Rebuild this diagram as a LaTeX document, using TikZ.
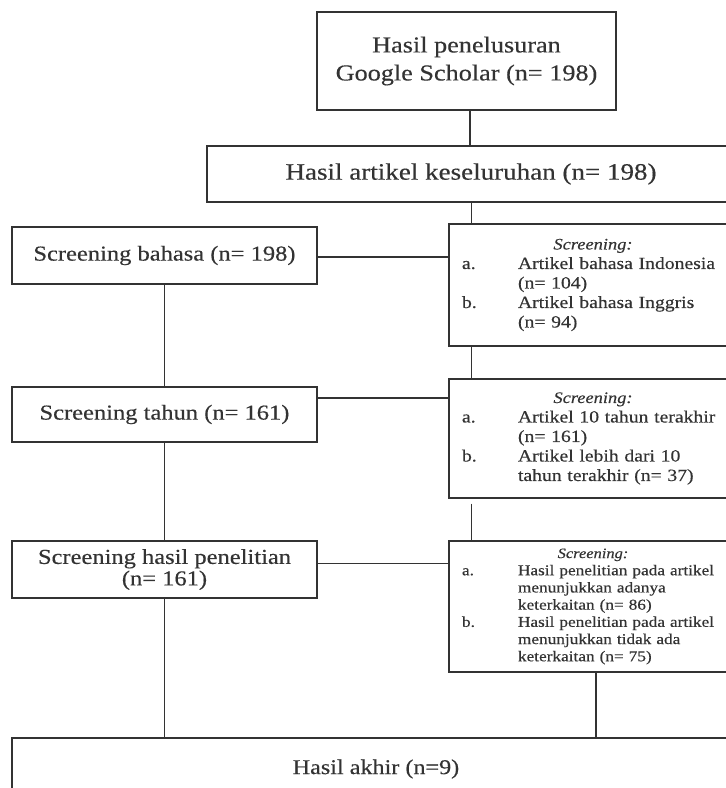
\documentclass[tikz,border=0pt]{standalone}
\usepackage{fontspec}
\setmainfont[FakeStretch=1.15,FakeBold=0.35]{Liberation Serif}
\usetikzlibrary{calc}
\setlength{\parindent}{0pt}
\definecolor{linec}{HTML}{333333}
\definecolor{textc}{HTML}{333333}
\newcommand{\itemrow}[2]{\makebox[56pt][l]{#1}#2\par}
\newcommand{\controw}[1]{\hspace*{56pt}#1\par}
\begin{document}
\begin{tikzpicture}[x=1pt,y=-1pt,
  box/.style={draw=linec, line width=1.4pt, rectangle, inner sep=0pt, align=center, text=textc},
  bigfont/.style={font=\fontsize{22.8}{28}\selectfont},
  leftfont/.style={font=\fontsize{21.3}{21.5}\selectfont},
  rbox/.style={box, align=left, text width=262pt, inner xsep=13pt, inner ysep=0pt},
  conn/.style={draw=linec, line width=1.4pt}]
\useasboundingbox (0,0) rectangle (726,788);
\clip (0,0) rectangle (726,788);
\fill[white] (0,0) rectangle (726,788);

\node[box, bigfont, minimum width=299pt, minimum height=98pt] (top) at (466.5,61)
  {Hasil penelusuran\\Google Scholar (n= 198)};
\node[box, font=\fontsize{23.5}{28}\selectfont, minimum width=528pt, minimum height=56pt] (all) at (471,174)
  {Hasil artikel keseluruhan (n= 198)};

\node[box, leftfont, minimum width=305pt, minimum height=57pt] (lb1) at (164.5,255.5)
  {Screening bahasa (n= 198)};
\node[box, leftfont, minimum width=305pt, minimum height=55pt] (lb2) at (164.5,414.5)
  {Screening tahun (n= 161)};
\node[box, leftfont, minimum width=305pt, minimum height=57pt] (lb3) at (164.5,569.5)
  {Screening hasil penelitian\\(n= 161)};

\node[rbox, font=\fontsize{17.1}{19.5}\selectfont, minimum height=122pt] (rb1) at (593,285)
  {{\centering\fontsize{16}{21}\selectfont\itshape Screening:\par}
   \itemrow{a.}{Artikel bahasa Indonesia}
   \controw{(n= 104)}
   \itemrow{b.}{Artikel bahasa Inggris}
   \controw{(n= 94)}};
\node[rbox, font=\fontsize{17.1}{19.5}\selectfont, minimum height=119pt] (rb2) at (593,438.5)
  {{\centering\fontsize{16}{21}\selectfont\itshape Screening:\par}
   \itemrow{a.}{Artikel 10 tahun terakhir}
   \controw{(n= 161)}
   \itemrow{b.}{Artikel lebih dari 10}
   \controw{tahun terakhir (n= 37)}};
\node[rbox, font=\fontsize{15}{17.2}\selectfont, minimum height=131pt] (rb3) at (593,606.5)
  {{\centering\fontsize{14.3}{18}\selectfont\itshape Screening:\par}
   \itemrow{a.}{Hasil penelitian pada artikel}
   \controw{menunjukkan adanya}
   \controw{keterkaitan (n= 86)}
   \itemrow{b.}{Hasil penelitian pada artikel}
   \controw{menunjukkan tidak ada}
   \controw{keterkaitan (n= 75)}};

\node[box, font=\fontsize{21}{24}\selectfont, minimum width=728pt, minimum height=62pt] (final) at (376,769)
  {Hasil akhir (n=9)};

% connectors
\draw[conn] ([xshift=3.5pt]top.south) -- ([xshift=3.5pt]top.south |- all.north);
\draw[conn] ([xshift=23pt]rb1.north west |- all.south) -- ([xshift=23pt]rb1.north west);
\draw[conn] ([yshift=-1.5pt]lb1.east) -- ([yshift=-1.5pt]lb1.east -| rb1.west);
\draw[conn] (lb1.south) -- (lb2.north);
\draw[conn] ([xshift=23pt]rb1.south west) -- ([xshift=23pt]rb2.north west);
\draw[conn] ([yshift=-11.5pt]lb2.north east) -- ([yshift=-11.5pt]lb2.north east -| rb2.west);
\draw[conn] (lb2.south) -- (lb3.north);
\draw[conn] ([xshift=23pt,yshift=-5pt]rb2.south west) -- ([xshift=23pt]rb3.north west);
\draw[conn] ([yshift=-23pt]lb3.north east) -- ([yshift=-23pt]lb3.north east -| rb3.west);
\draw[conn] (lb3.south) -- (lb3.south |- final.north);
\draw[conn] ([xshift=3pt]rb3.south) -- ([xshift=3pt]rb3.south |- final.north);
\end{tikzpicture}
\end{document}
